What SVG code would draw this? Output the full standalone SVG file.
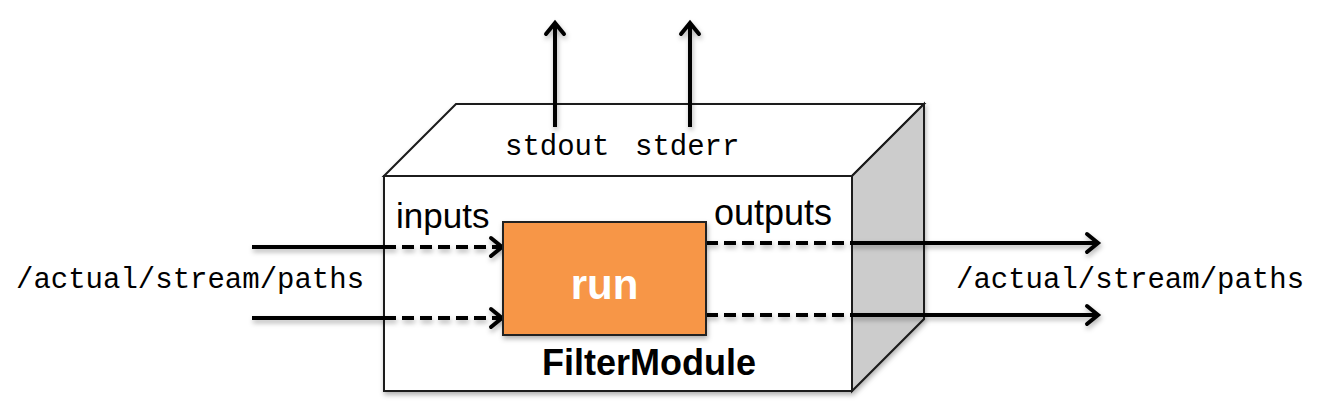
<svg xmlns="http://www.w3.org/2000/svg" width="1324" height="403" viewBox="0 0 1324 403">
  <style>
    .face { stroke: #1a1a1a; stroke-width: 2; stroke-linejoin: miter; }
    .front { fill: #ffffff; }
    .top { fill: #ffffff; }
    .side { fill: #cccccc; }
    .wire { stroke: #000; stroke-width: 4; fill: none; }
    .dash { stroke-dasharray: 12 6; }
    .mono { font-family: "Liberation Mono", "Courier New", monospace; font-size: 29px; fill: #000; }
    .sans { font-family: "Liberation Sans", Arial, Helvetica, sans-serif; fill: #000; }
  </style>
  <defs>
    <filter id="shadow" x="-10%" y="-10%" width="130%" height="140%">
      <feDropShadow dx="1" dy="3" stdDeviation="2.5" flood-color="#000" flood-opacity="0.3"/>
    </filter>
    <marker id="arrow" markerUnits="userSpaceOnUse" markerWidth="20" markerHeight="24" refX="12" refY="12" orient="auto" overflow="visible">
      <path d="M2,3 L13,12 L2,21" fill="none" stroke="#000" stroke-width="4" stroke-dasharray="none" stroke-linecap="round" stroke-linejoin="miter"/>
    </marker>
  </defs>

  <g id="filter-module" filter="url(#shadow)">
    <polygon class="face top" points="384,176 456,104 924,104 852,176"/>
    <polygon class="face side" points="852,176 924,104 924,319 852,391"/>
    <rect class="face front" x="384" y="176" width="468" height="215"/>
  </g>

  <g id="connectors" filter="url(#shadow)">
    <!-- stdout / stderr -->
    <line class="wire" x1="555" y1="127" x2="555" y2="24" marker-end="url(#arrow)"/>
    <line class="wire" x1="690" y1="127" x2="690" y2="24" marker-end="url(#arrow)"/>
    <!-- inputs -->
    <line class="wire" x1="252" y1="247" x2="384" y2="247"/>
    <line class="wire dash" x1="384" y1="247" x2="501" y2="247" marker-end="url(#arrow)"/>
    <line class="wire" x1="252" y1="318" x2="384" y2="318"/>
    <line class="wire dash" x1="384" y1="318" x2="501" y2="318" marker-end="url(#arrow)"/>
    <!-- outputs -->
    <line class="wire dash" x1="706" y1="243" x2="852" y2="243"/>
    <line class="wire" x1="852" y1="243" x2="1097" y2="243" marker-end="url(#arrow)"/>
    <line class="wire dash" x1="706" y1="315" x2="852" y2="315"/>
    <line class="wire" x1="852" y1="315" x2="1097" y2="315" marker-end="url(#arrow)"/>
  </g>

  <g id="run">
    <rect x="503" y="222" width="203" height="113" fill="#f79646" stroke="#222" stroke-width="2" filter="url(#shadow)"/>
    <text x="604.5" y="299" text-anchor="middle" class="sans" font-size="42" font-weight="bold" fill="#ffffff" style="fill:#ffffff">run</text>
  </g>

  <g id="labels">
    <text x="505" y="155" class="mono">stdout</text>
    <text x="635" y="155" class="mono">stderr</text>
    <text x="16" y="288" class="mono">/actual/stream/paths</text>
    <text x="956" y="288" class="mono">/actual/stream/paths</text>
    <text x="396" y="228" class="sans" font-size="35">inputs</text>
    <text x="714" y="225" class="sans" font-size="36">outputs</text>
    <text x="649" y="375" class="sans" font-size="36" font-weight="bold" text-anchor="middle">FilterModule</text>
  </g>
</svg>
